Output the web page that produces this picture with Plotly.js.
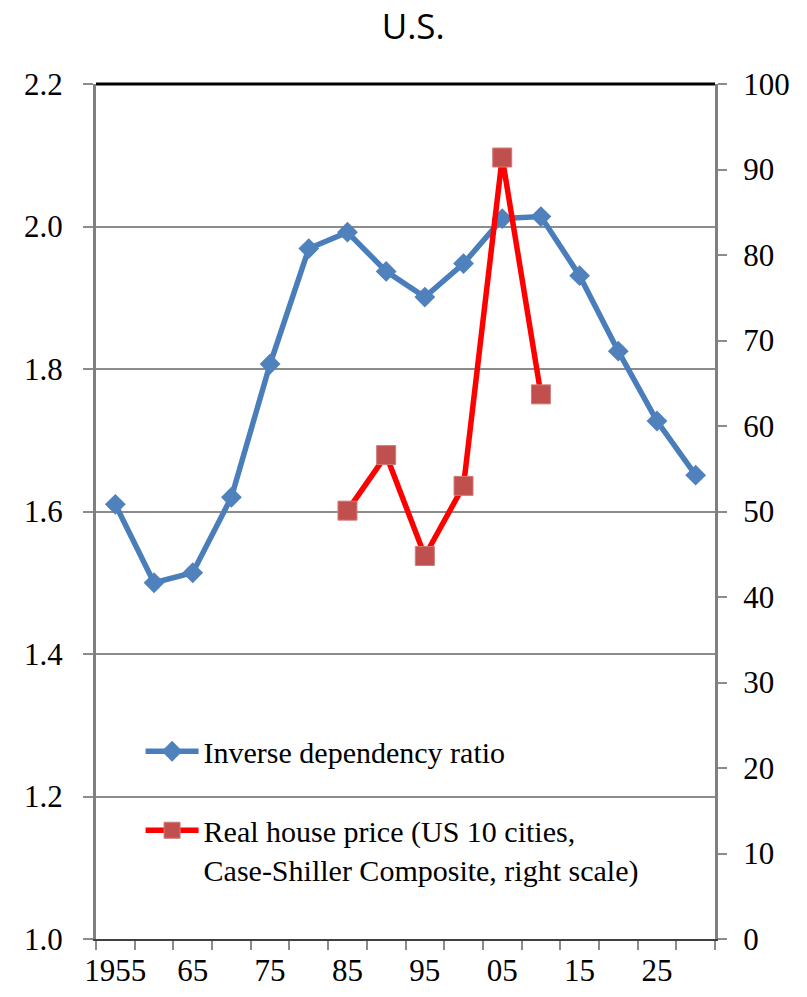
<!DOCTYPE html>
<html>
<head>
<meta charset="utf-8">
<script src="https://cdn.plot.ly/plotly-3.0.1.min.js"></script>
<style>html,body{margin:0;padding:0;background:#fff;}#chart{width:807px;height:997px;}</style>
</head>
<body>
<div id="chart"></div>
<script>
const years = [1955,1960,1965,1970,1975,1980,1985,1990,1995,2000,2005,2010,2015,2020,2025,2030];
const inverseDependency = [1.61,1.50,1.514,1.62,1.807,1.969,1.992,1.937,1.901,1.948,2.011,2.014,1.931,1.825,1.727,1.651];
const houseYears = [1985,1990,1995,2000,2005,2010];
const housePrice = [50.1,56.6,44.8,53.0,91.4,63.7];
const xTickVals = [1955,1965,1975,1985,1995,2005,2015,2025];
const xTickText = ['1955','65','75','85','95','05','15','25'];
const xBoundaries = [1952.5,1957.5,1962.5,1967.5,1972.5,1977.5,1982.5,1987.5,1992.5,1997.5,2002.5,2007.5,2012.5,2017.5,2022.5,2027.5,2032.5];
const leftTicks = [1.0,1.2,1.4,1.6,1.8,2.0,2.2];
const rightTicks = [0,10,20,30,40,50,60,70,80,90,100];
const seriesNames = ['Inverse dependency ratio','Real house price (US 10 cities,<br>Case-Shiller Composite, right scale)'];

const serif = 'Liberation Serif, Times New Roman, serif';
const traces = [
  {
    x: years, y: inverseDependency, name: seriesNames[0], type: 'scatter', mode: 'lines+markers',
    line: {color: '#4A7EBB', width: 5.5},
    marker: {symbol: 'diamond', size: 16, color: '#4F81BD', line: {width: 0}},
    legendgroup: 'a', yaxis: 'y'
  },
  {
    x: houseYears, y: housePrice, name: seriesNames[1], type: 'scatter', mode: 'lines+markers',
    line: {color: '#FF0000', width: 5.5},
    marker: {symbol: 'square', size: 19, color: '#C0504D', line: {width: 1, color: '#D07A78'}},
    legendgroup: 'b', yaxis: 'y2'
  }
];

const layout = {
  width: 807, height: 997,
  margin: {l: 96, r: 92, t: 84, b: 58},
  paper_bgcolor: '#ffffff', plot_bgcolor: '#ffffff',
  title: {text: 'U.S.', font: {family: 'Open Sans, Noto Sans, sans-serif', size: 35, color: '#000'}, x: 0.512, xanchor: 'center', y: 0.973, yanchor: 'middle'},
  showlegend: true,
  legend: {
    x: 0.072, y: 0.25, xanchor: 'left', yanchor: 'top',
    bgcolor: 'rgba(0,0,0,0)', borderwidth: 0,
    font: {family: serif, size: 30, color: '#000'},
    traceorder: 'grouped', tracegroupgap: 37, valign: 'top', itemwidth: 53
  },
  xaxis: {
    type: 'linear', range: [1952.5, 2032.5],
    tickmode: 'array', tickvals: xTickVals, ticktext: xTickText,
    ticks: '', ticklabelstandoff: 3,
    tickfont: {family: serif, size: 31, color: '#000'},
    showgrid: false, zeroline: false,
    showline: true, linecolor: '#404040', linewidth: 2,
    minor: {tickmode: 'array', tickvals: xBoundaries, ticks: 'outside', ticklen: 9, tickwidth: 2, tickcolor: '#8c8c8c', showgrid: false}
  },
  yaxis: {
    range: [1.0, 2.2], tickmode: 'array', tickvals: leftTicks, ticktext: leftTicks.map(v => v.toFixed(1)),
    ticks: 'outside', ticklen: 10, tickwidth: 2, tickcolor: '#8c8c8c', ticklabelstandoff: 14,
    tickfont: {family: serif, size: 31, color: '#000'},
    showgrid: true, gridcolor: '#8c8c8c', gridwidth: 2, zeroline: false,
    showline: true, linecolor: '#808080', linewidth: 3
  },
  yaxis2: {
    range: [0, 100], overlaying: 'y', side: 'right', tickmode: 'array', tickvals: rightTicks,
    ticks: 'outside', ticklen: 9, tickwidth: 2, tickcolor: '#8c8c8c', ticklabelstandoff: 10,
    tickfont: {family: serif, size: 31, color: '#000'},
    showgrid: false, zeroline: false,
    showline: true, linecolor: '#808080', linewidth: 3
  },
  shapes: [
    {type: 'line', xref: 'paper', yref: 'paper', x0: 0, x1: 1, y0: 1, y1: 1, line: {color: '#000', width: 3}}
  ]
};

Plotly.newPlot('chart', traces, layout, {displayModeBar: false, staticPlot: true});
</script>
</body>
</html>
